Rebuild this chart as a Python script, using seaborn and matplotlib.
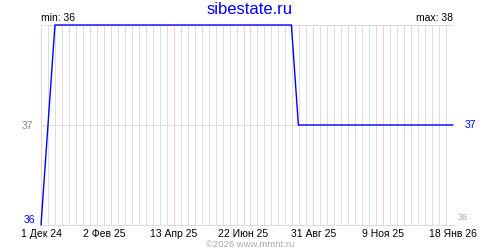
import matplotlib
matplotlib.use("Agg")
import matplotlib.pyplot as plt
import seaborn as sns
import pandas as pd

# Data (change points of the weekly series)
dates = ["2024-12-01", "2024-12-15", "2025-08-09", "2025-08-16", "2026-01-18"]
values = [36, 38, 38, 37, 37]

tick_dates = ["2024-12-01", "2025-02-02", "2025-04-13", "2025-06-22",
              "2025-08-31", "2025-11-09", "2026-01-18"]
tick_labels = ["1 Дек 24", "2 Фев 25", "13 Апр 25", "22 Июн 25",
               "31 Авг 25", "9 Ноя 25", "18 Янв 26"]
y_min, y_mid, y_max = 36, 37, 38
title = "sibestate.ru"
footer = "©2026 www.mmnt.ru"

df = pd.DataFrame({"date": pd.to_datetime(dates), "value": values})

sns.set_style("white")
plt.rcParams['font.family'] = ['Liberation Sans', 'DejaVu Sans']

PX = 0.72  # one pixel at 100 dpi

fig = plt.figure(figsize=(5, 2.5), dpi=100)
ax = fig.add_axes([41/500, 25/250, (453-41)/500, 200/250])

x0 = pd.Timestamp(tick_dates[0])
x1 = pd.Timestamp(tick_dates[-1])
ax.set_xlim(x0, x1)
ax.set_ylim(y_min, y_max)

# weekly grid
weeks = pd.date_range(x0, x1, freq="7D")
majors = set(pd.to_datetime(tick_dates))
for w in weeks:
    if w in majors:
        continue
    ax.axvline(w, color="#dddddd", linewidth=PX, antialiased=False, zorder=1)
for w in pd.to_datetime(tick_dates):
    ax.axvline(w, color="#ffcccc", linewidth=PX, antialiased=False, zorder=2)
ax.axhline(y_mid, color="#dddddd", linewidth=PX, antialiased=False, zorder=1)

ax.set_xticks(pd.to_datetime(tick_dates))
ax.set_xticklabels(tick_labels)
ax.set_yticks([y_mid])
ax.set_yticklabels([str(y_mid)])
ax.tick_params(axis="both", which="both", length=0)
ax.tick_params(axis="x", labelsize=7.5, colors="black", pad=3)
ax.tick_params(axis="y", labelsize=7.5, labelcolor="#888888", pad=6)

for s in ["left", "right"]:
    ax.spines[s].set_visible(False)
for s in ["top", "bottom"]:
    ax.spines[s].set_color("#dddddd")
    ax.spines[s].set_linewidth(PX)
    ax.spines[s].set_antialiased(False)

sns.lineplot(data=df, x="date", y="value", ax=ax, color="#0000ff",
             linewidth=1.0, clip_on=False, zorder=5)
ax.set_xlabel("")
ax.set_ylabel("")

ax.text(0, 1.01, f"min: {min(values)}", transform=ax.transAxes,
        ha="left", va="bottom", fontsize=7.5, color="black")
ax.text(1, 1.01, f"max: {max(values)}", transform=ax.transAxes,
        ha="right", va="bottom", fontsize=7.5, color="black")

tr = ax.get_yaxis_transform()
ax.text(-0.015, values[0], str(values[0]), transform=tr, ha="right",
        va="bottom", fontsize=7.5, color="#0000ff")
ax.text(1.028, values[-1], str(values[-1]), transform=tr, ha="left",
        va="center", fontsize=7.5, color="#0000ff")
ax.text(1.012, y_min + 0.03, str(y_min), transform=tr, ha="left",
        va="bottom", fontsize=6.5, color="#aaaaaa")

fig.text(0.5, 0.96, title, ha="center", va="center", fontsize=12,
         color="#0000ff")
fig.text(0.5, 0.003, footer, ha="center", va="bottom", fontsize=6.8,
         color="#aaaaaa")

fig.savefig("out.png", dpi=100)
